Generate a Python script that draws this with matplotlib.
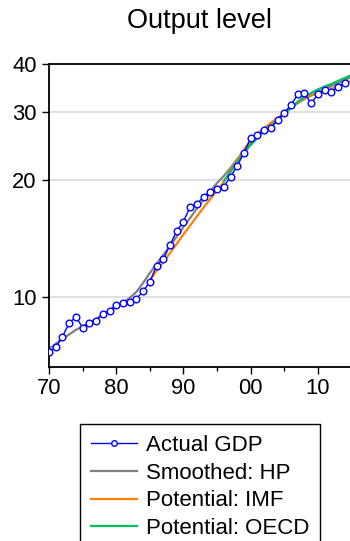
import matplotlib
matplotlib.use("Agg")
import matplotlib.pyplot as plt
from matplotlib.ticker import FixedLocator, NullLocator, NullFormatter

# ---- data ----
years_actual = list(range(1970, 2015))
actual_gdp = [7.22, 7.41, 7.90, 8.55, 8.89, 8.33, 8.55, 8.69, 9.04, 9.22,
              9.54, 9.63, 9.72, 9.88, 10.36, 10.92, 12.05, 12.51, 13.62, 14.81,
              15.65, 17.12, 17.39, 18.16, 18.71, 19.01, 19.28, 20.45, 21.80, 23.59,
              25.71, 26.20, 27.00, 27.30, 28.66, 29.94, 31.34, 33.40, 33.60, 31.66,
              33.40, 34.26, 33.90, 34.94, 35.66]

years_hp = list(range(1970, 2016))
smoothed_hp = [7.34, 7.56, 7.79, 8.00, 8.22, 8.39, 8.59, 8.77, 8.98, 9.20,
               9.42, 9.68, 9.94, 10.30, 10.87, 11.53, 12.17, 12.84, 13.54, 14.33,
               15.17, 16.00, 16.93, 17.86, 18.79, 19.70, 20.54, 21.54, 22.73, 23.84,
               25.00, 26.06, 27.01, 27.99, 28.92, 29.89, 30.79, 31.72, 32.48, 33.16,
               33.86, 34.47, 35.09, 35.72, 36.37, 37.02]

years_imf = list(range(1985, 2016))
potential_imf = [11.06, 11.67, 12.31, 12.99, 13.71, 14.50, 15.30, 16.14, 17.03, 17.92,
                 18.85, 19.82, 21.16, 22.59, 23.98, 25.45, 26.37, 27.33, 28.16, 29.01,
                 29.89, 30.97, 31.91, 32.68, 33.16, 33.56, 33.96, 34.47, 35.09, 35.72,
                 36.22]

years_oecd = list(range(1996, 2016))
potential_oecd = [19.94, 21.04, 22.33, 23.56, 24.70, 25.75, 26.85, 27.66, 28.67, 29.71,
                  30.79, 31.91, 32.87, 33.66, 34.37, 34.99, 35.51, 36.15, 36.80, 37.47]

xtick_pos = [1970, 1980, 1990, 2000, 2010]
xtick_labels = ["70", "80", "90", "00", "10"]
ytick_pos = [10, 20, 30, 40]
ytick_labels = ["10", "20", "30", "40"]

# ---- figure ----
plt.rcParams['font.family'] = ['Liberation Sans', 'DejaVu Sans']
W, H = 350, 541
fig = plt.figure(figsize=(W / 100, H / 100), dpi=100)
ax = fig.add_axes([49 / W, 1 - 367 / H, (351.5 - 49) / W, (367 - 64) / H])

ax.set_yscale('log')
ax.set_xlim(1970, 2015)
ax.set_ylim(6.59, 40)

for y in [10, 20, 30]:
    ax.axhline(y, color='#d8d8d8', lw=1.1, zorder=0)

ax.plot(years_hp, smoothed_hp, color='#808080', lw=1.6, label='Smoothed: HP', zorder=2)
ax.plot(years_imf, potential_imf, color='#ff8000', lw=1.6, label='Potential: IMF', zorder=3)
ax.plot(years_oecd, potential_oecd, color='#00c060', lw=1.6, label='Potential: OECD', zorder=3)
l_act, = ax.plot(years_actual, actual_gdp, color='#0000ff', lw=1.0, marker='o',
                 markersize=4.8, markerfacecolor='white', markeredgecolor='#0000ff',
                 markeredgewidth=1.0, label='Actual GDP', zorder=4)

ax.yaxis.set_major_locator(FixedLocator(ytick_pos))
ax.set_yticklabels(ytick_labels)
ax.yaxis.set_minor_locator(NullLocator())
ax.yaxis.set_minor_formatter(NullFormatter())
ax.xaxis.set_major_locator(FixedLocator(xtick_pos))
ax.set_xticklabels(xtick_labels)
ax.xaxis.set_minor_locator(FixedLocator([1975, 1985, 1995, 2005, 2015]))

ax.tick_params(axis='both', which='major', direction='out', length=5, width=1,
               labelsize=15.8, color='black')
ax.tick_params(axis='y', pad=4)
ax.tick_params(axis='x', pad=3)
ax.tick_params(axis='x', which='minor', direction='out', length=3, width=1)

for s in ['left', 'bottom', 'top']:
    ax.spines[s].set_color('black')
    ax.spines[s].set_linewidth(1.3)
ax.spines['right'].set_visible(False)

fig.text(199.5 / W, 1 - 21 / H, 'Output level', ha='center', va='center', fontsize=19.5)

handles, labels = ax.get_legend_handles_labels()
order = [3, 0, 1, 2]
leg = fig.legend([handles[i] for i in order], [labels[i] for i in order],
                 loc='upper left', bbox_to_anchor=(80 / W, 1 - 424 / H),
                 fontsize=16, frameon=True, fancybox=False, framealpha=1,
                 edgecolor='black', borderaxespad=0, handlelength=2.07,
                 handletextpad=0.4, labelspacing=0.3, borderpad=0.5)
leg.get_frame().set_linewidth(1.0)
for lh in leg.legend_handles:
    lh.set_markersize(4)

fig.savefig('out.png', dpi=100)
